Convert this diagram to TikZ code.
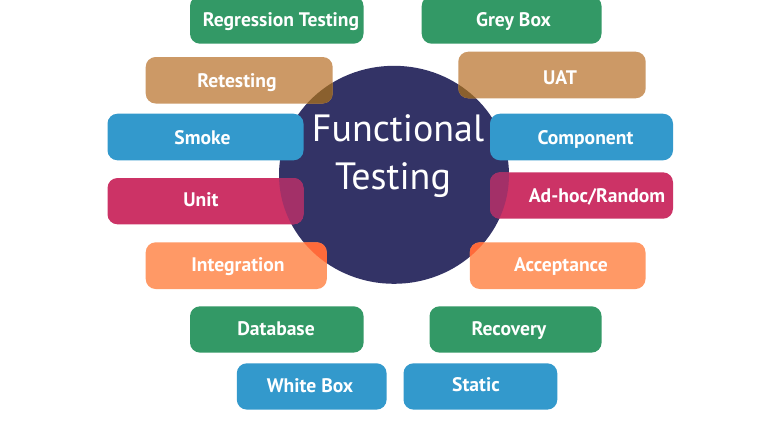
\documentclass[tikz,border=0pt]{standalone}
\usepackage{fontspec}
\setmainfont{PT Sans}
\definecolor{cgreen}{HTML}{339966}
\definecolor{cbrown}{HTML}{CC9966}
\definecolor{cblue}{HTML}{3399CC}
\definecolor{ccrim}{HTML}{CC3366}
\definecolor{corange}{HTML}{FF9966}
\definecolor{cnavy}{HTML}{333366}
\definecolor{obrown}{HTML}{8A602E}
\definecolor{ocrim}{HTML}{A33068}
\definecolor{oorange}{HTML}{FF6A3A}
\tikzset{
  boxshape/.style={rounded corners=10pt,draw=none},
  lab/.style={text=white,font=\fontsize{19.6}{22}\selectfont\bfseries,inner sep=0pt,anchor=base},
  title/.style={text=white,font=\fontsize{38}{40}\selectfont,inner sep=0pt,anchor=base}
}
\newcommand{\tbox}[9]{%
  \path[boxshape,fill=#6] (#2,#3) rectangle (#4,#5);
  \node[lab] (#1) at (#7,#8) {#9};
}
\newcommand{\ovl}[5]{%
  \begin{scope}
    \clip (394,174.8) ellipse [x radius=115,y radius=109];
    \path[boxshape,fill=#5] (#1,#2) rectangle (#3,#4);
  \end{scope}
}
\begin{document}
\begin{tikzpicture}[x=1pt,y=-1pt]
\useasboundingbox (0,0) rectangle (780,440);
\fill[white] (0,0) rectangle (780,440);
\fill[cnavy] (394,174.8) ellipse [x radius=115,y radius=109];
\node[title] (func) at (398,141.7) {Functional};
\node[title] (test) at (393,189.3) {Testing};
\tbox{reg}{190}{-4}{363.5}{43.7}{cgreen}{281}{26.7}{Regression Testing}
\tbox{grey}{421.7}{-4}{601.5}{43.7}{cgreen}{513.5}{26.7}{Grey Box}
\tbox{ret}{145.7}{57}{332.7}{103.5}{cbrown}{237}{87}{Retesting}
\tbox{uat}{458.3}{51.7}{645.7}{98.3}{cbrown}{560}{84}{UAT}
\tbox{smoke}{107.5}{113.7}{303.5}{160.3}{cblue}{202.5}{144}{Smoke}
\tbox{comp}{490}{113.7}{673}{160.3}{cblue}{585.5}{144}{Component}
\tbox{unit}{107.5}{178}{303.5}{224.3}{ccrim}{201}{206.7}{Unit}
\tbox{adhoc}{490}{172.3}{673}{218.7}{ccrim}{597}{202.3}{Ad-hoc/Random}
\tbox{integ}{145.7}{242.3}{326.8}{289}{corange}{238}{271.3}{Integration}
\tbox{accept}{469.8}{242.3}{645.5}{289}{corange}{561}{271.3}{Acceptance}
\tbox{db}{190}{306.3}{363.6}{352.6}{cgreen}{276}{335}{Database}
\tbox{rec}{429.5}{306.3}{601.6}{352.6}{cgreen}{509}{335}{Recovery}
\tbox{white}{236.8}{363.3}{386.6}{409.6}{cblue}{310}{392.3}{White Box}
\tbox{static}{403.5}{363.3}{557.3}{409.6}{cblue}{476}{391.7}{Static}
\ovl{145.7}{57}{332.7}{103.5}{obrown}
\ovl{458.3}{51.7}{645.7}{98.3}{obrown}
\ovl{107.5}{178}{303.5}{224.3}{ocrim}
\ovl{490}{172.3}{673}{218.7}{ocrim}
\ovl{145.7}{242.3}{326.8}{289}{oorange}
\ovl{469.8}{242.3}{645.5}{289}{oorange}
\end{tikzpicture}
\end{document}
